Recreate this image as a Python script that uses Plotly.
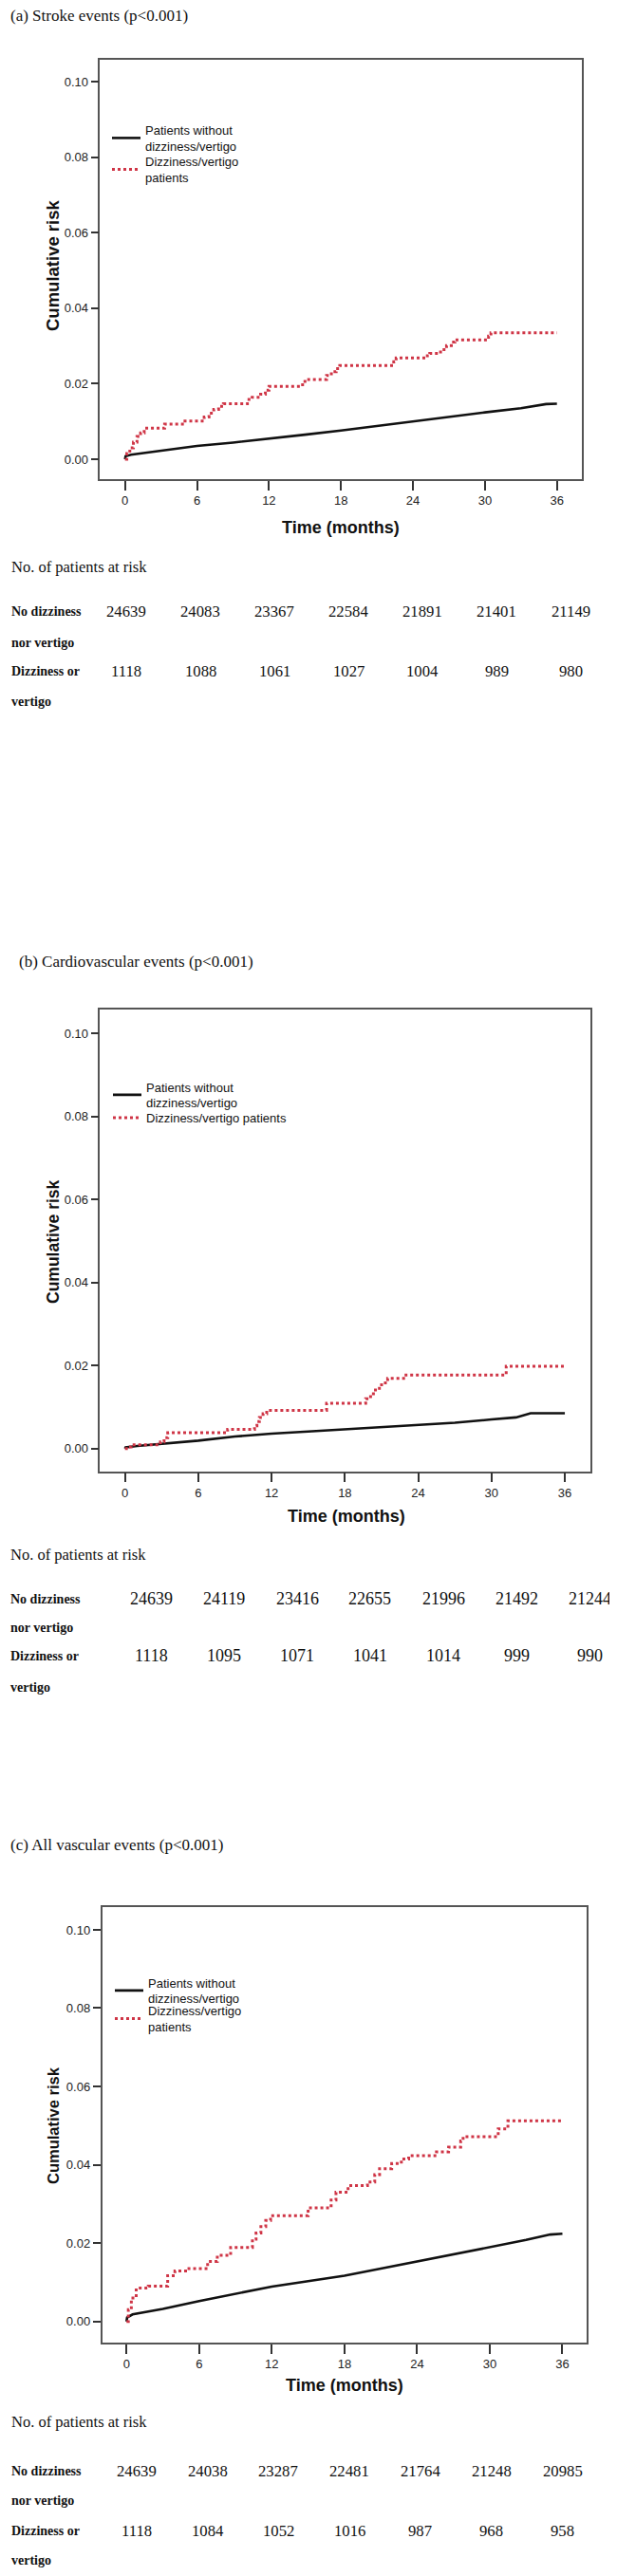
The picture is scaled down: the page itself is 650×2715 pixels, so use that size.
import plotly.graph_objects as go

# page pixels (target) ; the browser adds an 8px body margin around the figure div
PAGE_W, PAGE_H = 650, 2715
OFF = 8
W, H = PAGE_W - OFF, PAGE_H - OFF

# ---------------- data ----------------
time_ticks = [0, 6, 12, 18, 24, 30, 36]
risk_ticks = [0.00, 0.02, 0.04, 0.06, 0.08, 0.10]

panel_titles = ["(a) Stroke events (p<0.001)",
                "(b) Cardiovascular events (p<0.001)",
                "(c) All vascular events (p<0.001)"]

# (a) Stroke
a_red_t = [0, 0.15, 0.4, 0.7, 1.0, 1.3, 1.6, 3.3, 5.0, 6.6, 7.0, 7.4, 7.8, 8.2, 10.2, 10.6, 11.3, 11.7,
           12.0, 14.8, 15.0, 16.8, 17.2, 17.6, 17.9, 22.4, 22.6, 25.2, 25.4, 26.3, 26.8, 27.2, 27.5,
           30.3, 30.5, 36.0]
a_red_v = [0, 0.0015, 0.003, 0.0045, 0.006, 0.007, 0.0082, 0.0093, 0.0101, 0.0112, 0.0122, 0.0132,
           0.0140, 0.0147, 0.0158, 0.0164, 0.0172, 0.0183, 0.0193, 0.0202, 0.0211, 0.0222, 0.0232,
           0.0240, 0.0248, 0.0258, 0.0268, 0.0274, 0.0280, 0.0290, 0.0301, 0.0310, 0.0316, 0.0326,
           0.0335, 0.0335]
a_blk_t = [0, 0.05, 0.5, 2, 4, 6, 9, 12, 15, 18, 21, 24, 27, 30, 33, 35.1, 36]
a_blk_v = [0, 0.0008, 0.0012, 0.0018, 0.0027, 0.0035, 0.0044, 0.0054, 0.0065, 0.0076, 0.0088,
           0.0101, 0.0112, 0.0124, 0.0135, 0.0146, 0.0147]
a_risk_no = ["24639", "24083", "23367", "22584", "21891", "21401", "21149"]
a_risk_dz = ["1118", "1088", "1061", "1027", "1004", "989", "980"]

# (b) Cardiovascular
b_red_t = [0, 0.3, 0.5, 2.9, 3.2, 3.5, 8.4, 10.6, 10.8, 11.0, 11.3, 11.6, 16.5, 19.7, 20.1, 20.5,
           21.0, 21.5, 23.0, 31.2, 36.0]
b_red_v = [0, 0.0004, 0.0009, 0.0016, 0.0026, 0.0038, 0.0046, 0.0055, 0.0065, 0.0075, 0.0084,
           0.0092, 0.0109, 0.0120, 0.0132, 0.0145, 0.0158, 0.0169, 0.0177, 0.0198, 0.0198]
b_blk_t = [0, 0.05, 1, 3, 6, 9, 12, 15, 18, 21, 24, 27, 30, 32, 33.2, 36]
b_blk_v = [0, 0.0003, 0.0006, 0.0011, 0.0019, 0.0029, 0.0036, 0.0041, 0.0046, 0.0051, 0.0056,
           0.0062, 0.0070, 0.0075, 0.0085, 0.0085]
b_risk_no = ["24639", "24119", "23416", "22655", "21996", "21492", "21244"]
b_risk_dz = ["1118", "1095", "1071", "1041", "1014", "999", "990"]

# (c) All vascular
c_red_t = [0, 0.15, 0.4, 0.8, 1.8, 3.4, 4.0, 5.0, 6.7, 7.5, 8.6, 10.4, 10.7, 11.1, 11.5, 11.9,
           15.0, 16.9, 17.3, 18.3, 19.9, 20.5, 20.9, 21.9, 22.7, 23.3, 25.6, 26.6, 27.6, 27.8,
           30.7, 31.5, 36.0]
c_red_v = [0, 0.0030, 0.0060, 0.0085, 0.0090, 0.0117, 0.0129, 0.0135, 0.0153, 0.0169, 0.0189,
           0.0210, 0.0226, 0.0242, 0.0258, 0.0270, 0.0290, 0.0310, 0.0330, 0.0347, 0.0356, 0.0375,
           0.0390, 0.0403, 0.0415, 0.0423, 0.0433, 0.0445, 0.0461, 0.0472, 0.0492, 0.0512, 0.0512]
c_blk_t = [0, 0.05, 0.5, 1.5, 3, 6, 9, 12, 15, 18, 21, 24, 27, 30, 33, 35, 36]
c_blk_v = [0, 0.0010, 0.0018, 0.0024, 0.0032, 0.0052, 0.0070, 0.0089, 0.0103, 0.0117, 0.0135,
           0.0153, 0.0171, 0.0190, 0.0208, 0.0222, 0.0224]
c_risk_no = ["24639", "24038", "23287", "22481", "21764", "21248", "20985"]
c_risk_dz = ["1118", "1084", "1052", "1016", "987", "968", "958"]

name_blk_2 = "Patients without<br>dizziness/vertigo"
name_red_2 = "Dizziness/vertigo<br>patients"
name_red_1 = "Dizziness/vertigo patients"
row_labels = ["No dizziness", "nor vertigo", "Dizziness or", "vertigo"]
table_header = "No. of patients at risk"

# ---------------- layout geometry (page pixels) ----------------
panels = [
    dict(title=panel_titles[0], title_xy=(10, 17),
         box=(105.4, 612.5, 63.3, 505), xr=[-2.08, 38.04], yr=[-0.00528, 0.1057],
         red=(a_red_t, a_red_v), blk=(a_blk_t, a_blk_v), red_name=name_red_2,
         leg_blk=(113, 145.5), leg_red=(113, 178.5),
         xtitle=(359, 556, 18), ytitle=(56, 280, 18.5),
         tab=dict(head=598, rows=[645, 677, 708, 739], x0=133, step=78, lx=10, vsize=16.7),
         no=a_risk_no, dz=a_risk_dz),
    dict(title=panel_titles[1], title_xy=(19, 1013),
         box=(105.4, 621.7, 1064, 1550.7), xr=[-2.04, 38.07], yr=[-0.00548, 0.1057],
         red=(b_red_t, b_red_v), blk=(b_blk_t, b_blk_v), red_name=name_red_1,
         leg_blk=(114, 1154), leg_red=(114, 1178),
         xtitle=(364.6, 1598, 18), ytitle=(56, 1308, 17.5),
         tab=dict(head=1638, rows=[1685, 1715, 1745, 1778], x0=159, step=77, lx=9, vsize=18),
         no=b_risk_no, dz=b_risk_dz),
    dict(title=panel_titles[2], title_xy=(10, 1944),
         box=(107.5, 618, 2010, 2469), xr=[-2.02, 38.0], yr=[-0.0054, 0.1058],
         red=(c_red_t, c_red_v), blk=(c_blk_t, c_blk_v), red_name=name_red_2,
         leg_blk=(116, 2098), leg_red=(116, 2127.5),
         xtitle=(362.5, 2514, 18), ytitle=(56, 2240, 16.5),
         tab=dict(head=2552, rows=[2604, 2635, 2667, 2698], x0=143.75, step=74.8, lx=10, vsize=16.7),
         no=c_risk_no, dz=c_risk_dz),
]

RED = "#cf3546"
BLK = "#111111"
SERIF = "Liberation Serif, Times New Roman, serif"
SANS = "Liberation Sans, Arial, sans-serif"


def px(x):
    return (x - OFF) / W


def py(y):
    return 1 - (y - OFF) / H


fig = go.Figure()
annotations = []
layout = dict(width=W, height=H, margin=dict(l=0, r=0, t=0, b=0),
              paper_bgcolor="white", plot_bgcolor="white", showlegend=True)

leg_idx = 0
for i, p in enumerate(panels):
    n = "" if i == 0 else str(i + 1)
    xa, ya = "x" + n, "y" + n
    left, right, top, bottom = p["box"]

    for (t, v), name, color, dash, width, shape, leg_pos in [
        (p["blk"], name_blk_2, BLK, "solid", 2.6, "linear", p["leg_blk"]),
        (p["red"], p["red_name"], RED, "dot", 3, "hv", p["leg_red"]),
    ]:
        leg_idx += 1
        lname = "legend" if leg_idx == 1 else "legend%d" % leg_idx
        fig.add_trace(go.Scatter(x=t, y=v, mode="lines", name=name, xaxis=xa, yaxis=ya,
                                 legend=lname,
                                 line=dict(color=color, width=width, dash=dash, shape=shape)))
        layout[lname] = dict(x=px(leg_pos[0]), y=py(leg_pos[1]), xanchor="left", yanchor="middle",
                             bgcolor="rgba(0,0,0,0)", borderwidth=0, itemwidth=30,
                             font=dict(family=SANS, size=13, color="#111"))

    common = dict(showline=True, linecolor="#555", linewidth=1.5, mirror=True,
                  ticks="outside", tickwidth=1.5, tickcolor="#333",
                  showgrid=False, zeroline=False,
                  tickfont=dict(family=SANS, size=13, color="#222"))
    layout["xaxis" + n] = dict(domain=[px(left), px(right)], range=p["xr"], anchor=ya,
                               tickvals=time_ticks, ticklen=10, **common)
    layout["yaxis" + n] = dict(domain=[py(bottom), py(top)], range=p["yr"], anchor=xa,
                               tickvals=risk_ticks, tickformat=".2f", ticklen=8, **common)

    # panel title
    annotations.append(dict(text=p["title"], x=px(p["title_xy"][0]), y=py(p["title_xy"][1]),
                            xref="paper", yref="paper", xanchor="left", yanchor="middle",
                            borderpad=0, showarrow=False,
                            font=dict(family=SERIF, size=17, color="#111")))
    # axis titles
    annotations.append(dict(text="<b>Time (months)</b>", x=px(p["xtitle"][0]), y=py(p["xtitle"][1]),
                            xref="paper", yref="paper", xanchor="center", yanchor="middle",
                            showarrow=False, font=dict(family=SANS, size=p["xtitle"][2], color="#111")))
    annotations.append(dict(text="<b>Cumulative risk</b>", x=px(p["ytitle"][0]), y=py(p["ytitle"][1]),
                            xref="paper", yref="paper", xanchor="center", yanchor="middle",
                            textangle=-90, showarrow=False,
                            font=dict(family=SANS, size=p["ytitle"][2], color="#111")))
    # at-risk table
    tb = p["tab"]
    annotations.append(dict(text=table_header, x=px(tb["lx"]), y=py(tb["head"]),
                            xref="paper", yref="paper", xanchor="left", yanchor="middle",
                            showarrow=False, font=dict(family=SERIF, size=16.5, color="#111")))
    for lab, ry in zip(row_labels, tb["rows"]):
        annotations.append(dict(text="<b>%s</b>" % lab, x=px(tb["lx"]), y=py(ry),
                                xref="paper", yref="paper", xanchor="left", yanchor="middle",
                                showarrow=False, font=dict(family=SERIF, size=14, color="#111")))
    for vals, ry in [(p["no"], tb["rows"][0]), (p["dz"], tb["rows"][2])]:
        for k, val in enumerate(vals):
            annotations.append(dict(text=val, x=px(tb["x0"] + k * tb["step"]), y=py(ry),
                                    xref="paper", yref="paper", xanchor="center", yanchor="middle",
                                    showarrow=False,
                                    font=dict(family=SERIF, size=tb["vsize"], color="#111")))

layout["annotations"] = annotations
fig.update_layout(**layout)
fig.write_html("out.html")
